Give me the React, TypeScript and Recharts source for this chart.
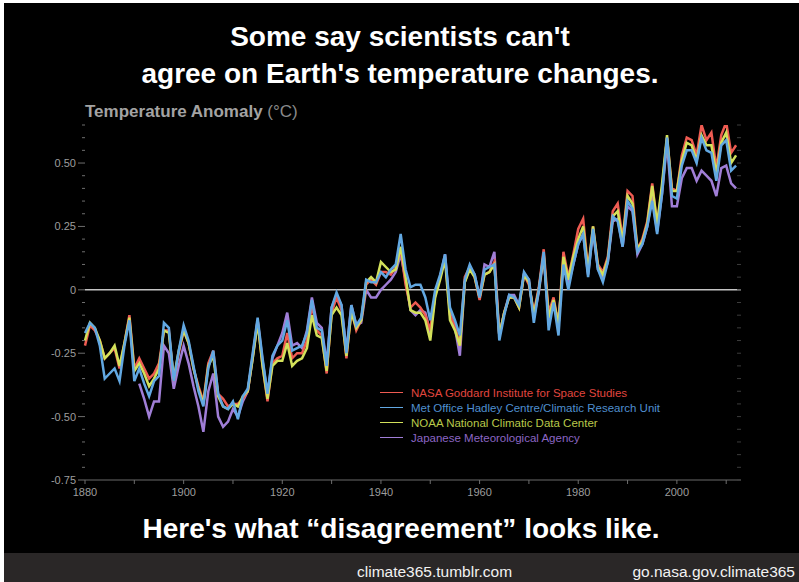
import React from 'react';
import { LineChart, Line, XAxis, YAxis, ReferenceLine, Legend } from 'recharts';

const FONT = '"Liberation Sans", Arial, Helvetica, sans-serif';

const FIRST_YEAR = 1880;
const JMA_FIRST_YEAR = 1891;

// annual anomalies, 1880-2012
const nasa = [
  -0.22, -0.14, -0.16, -0.2, -0.27, -0.25, -0.23, -0.31, -0.21, -0.1,
  -0.31, -0.27, -0.31, -0.35, -0.33, -0.29, -0.16, -0.16, -0.36, -0.25,
  -0.16, -0.21, -0.31, -0.38, -0.44, -0.29, -0.24, -0.41, -0.43, -0.46,
  -0.45, -0.45, -0.43, -0.4, -0.26, -0.12, -0.3, -0.44, -0.29, -0.27,
  -0.26, -0.17, -0.27, -0.25, -0.25, -0.2, -0.06, -0.16, -0.18, -0.33,
  -0.09, -0.03, -0.08, -0.27, -0.08, -0.16, -0.12, 0.02, 0.04, 0.02,
  0.07, 0.07, 0.06, 0.09, 0.16, 0.02, -0.07, -0.05, -0.07, -0.1,
  -0.16, -0.02, 0.05, 0.13, -0.1, -0.14, -0.22, 0.05, 0.09, 0.05,
  -0.04, 0.06, 0.07, 0.11, -0.18, -0.09, -0.03, -0.03, -0.07, 0.06,
  0.02, -0.09, 0.01, 0.16, -0.09, -0.03, -0.14, 0.15, 0.05, 0.14,
  0.24, 0.28, 0.08, 0.25, 0.1, 0.07, 0.13, 0.31, 0.34, 0.2,
  0.39, 0.37, 0.16, 0.2, 0.27, 0.42, 0.26, 0.4, 0.6, 0.4,
  0.39, 0.53, 0.6, 0.59, 0.53, 0.65, 0.59, 0.62, 0.48, 0.61,
  0.66, 0.54, 0.57,
];

const hadcrut = [
  -0.17, -0.13, -0.15, -0.22, -0.35, -0.33, -0.31, -0.36, -0.22, -0.12,
  -0.36, -0.31, -0.37, -0.42, -0.36, -0.34, -0.13, -0.15, -0.36, -0.24,
  -0.14, -0.2, -0.3, -0.4, -0.46, -0.31, -0.24, -0.41, -0.46, -0.47,
  -0.44, -0.51, -0.42, -0.39, -0.25, -0.11, -0.27, -0.41, -0.26, -0.22,
  -0.2, -0.12, -0.24, -0.23, -0.22, -0.17, -0.04, -0.15, -0.16, -0.3,
  -0.07, -0.01, -0.06, -0.25, -0.06, -0.14, -0.11, 0.04, 0.03, 0.03,
  0.07, 0.05, 0.08, 0.1, 0.22, 0.08, 0.01, 0.02, 0.02, -0.03,
  -0.12, 0.0, 0.06, 0.14, -0.07, -0.12, -0.18, 0.04, 0.1, 0.06,
  -0.03, 0.08, 0.09, 0.1, -0.2, -0.1, -0.02, -0.03, -0.06, 0.07,
  0.04, -0.13, 0.0, 0.15, -0.16, -0.05, -0.18, 0.1, 0.0, 0.1,
  0.18, 0.22, 0.05, 0.24, 0.08, 0.03, 0.11, 0.29, 0.27, 0.17,
  0.35, 0.32, 0.15, 0.18, 0.25, 0.35, 0.22, 0.38, 0.6, 0.37,
  0.36, 0.49, 0.55, 0.55, 0.5, 0.6, 0.55, 0.54, 0.43, 0.57,
  0.59, 0.47, 0.49,
];

const noaa = [
  -0.2, -0.13, -0.15, -0.2, -0.27, -0.25, -0.22, -0.3, -0.21, -0.11,
  -0.32, -0.29, -0.33, -0.38, -0.35, -0.31, -0.16, -0.17, -0.35, -0.24,
  -0.16, -0.21, -0.31, -0.39, -0.45, -0.3, -0.26, -0.42, -0.46, -0.47,
  -0.45, -0.46, -0.42, -0.4, -0.27, -0.13, -0.3, -0.43, -0.3, -0.28,
  -0.28, -0.21, -0.3, -0.28, -0.27, -0.23, -0.1, -0.18, -0.19, -0.32,
  -0.1, -0.07, -0.1, -0.26, -0.09, -0.15, -0.12, 0.03, 0.05, 0.03,
  0.11, 0.09, 0.07, 0.08, 0.17, 0.05, -0.08, -0.09, -0.09, -0.12,
  -0.2, -0.03, 0.04, 0.12, -0.12, -0.16, -0.22, 0.03, 0.08, 0.05,
  -0.03, 0.06, 0.07, 0.1, -0.18, -0.09, -0.03, -0.03, -0.07, 0.06,
  0.03, -0.1, 0.0, 0.14, -0.11, -0.04, -0.14, 0.13, 0.04, 0.13,
  0.2, 0.25, 0.07, 0.25, 0.09, 0.06, 0.12, 0.29, 0.31, 0.19,
  0.37, 0.34, 0.16, 0.19, 0.26, 0.41, 0.26, 0.42, 0.61, 0.39,
  0.39, 0.51, 0.58, 0.57, 0.51, 0.61, 0.57, 0.57, 0.46, 0.58,
  0.62, 0.5, 0.53,
];

// JMA series starts in 1891
const jma = [
  -0.37, -0.43, -0.5, -0.44, -0.44, -0.22, -0.25, -0.39, -0.3,
  -0.22, -0.29, -0.38, -0.46, -0.56, -0.4, -0.33, -0.5, -0.54, -0.52,
  -0.47, -0.5, -0.44, -0.4, -0.27, -0.12, -0.28, -0.41, -0.27, -0.22,
  -0.17, -0.09, -0.22, -0.21, -0.23, -0.16, -0.03, -0.13, -0.15, -0.29,
  -0.07, -0.02, -0.06, -0.24, -0.06, -0.14, -0.13, 0.0, -0.03, -0.03,
  0.0, 0.02, 0.04, 0.07, 0.14, 0.04, -0.08, -0.1, -0.08, -0.09,
  -0.17, -0.02, 0.05, 0.14, -0.09, -0.15, -0.26, 0.03, 0.09, 0.06,
  -0.03, 0.1, 0.09, 0.15, -0.18, -0.09, -0.02, -0.02, -0.06, 0.06,
  0.04, -0.11, -0.01, 0.13, -0.12, -0.06, -0.12, 0.11, 0.02, 0.1,
  0.18, 0.22, 0.06, 0.23, 0.08, 0.05, 0.11, 0.27, 0.28, 0.17,
  0.33, 0.31, 0.14, 0.18, 0.25, 0.37, 0.23, 0.38, 0.58, 0.33,
  0.33, 0.44, 0.48, 0.48, 0.43, 0.47, 0.45, 0.43, 0.37, 0.48,
  0.49, 0.42, 0.4,
];

const xTicks = [1880, 1890, 1900, 1910, 1920, 1930, 1940, 1950, 1960, 1970, 1980, 1990, 2000, 2010];
const xLabels = [1880, 1900, 1920, 1940, 1960, 1980, 2000];

const yTicks = [
  -0.75, -0.7, -0.65, -0.6, -0.55, -0.5, -0.45, -0.4, -0.35, -0.3, -0.25, -0.2, -0.15, -0.1, -0.05,
  0, 0.05, 0.1, 0.15, 0.2, 0.25, 0.3, 0.35, 0.4, 0.45, 0.5, 0.55, 0.6, 0.65,
];
const yLabels = [-0.75, -0.5, -0.25, 0, 0.25, 0.5];

const series = [
  { key: 'nasa', name: 'NASA Goddard Institute for Space Studies', color: '#ef5b52', text: '#e0463f' },
  { key: 'hadcrut', name: 'Met Office Hadley Centre/Climatic Research Unit', color: '#62a8e2', text: '#4f8fcf' },
  { key: 'noaa', name: 'NOAA National Climatic Data Center', color: '#d3e15a', text: '#b9c84a' },
  { key: 'jma', name: 'Japanese Meteorological Agency', color: '#a07ed7', text: '#8c66c4' },
];

const data = nasa.map((v, i) => {
  const year = FIRST_YEAR + i;
  const j = year - JMA_FIRST_YEAR;
  return { year, nasa: v, hadcrut: hadcrut[i], noaa: noaa[i], jma: j >= 0 ? jma[j] : null };
});

const isLabel = (list: number[], v: number) => list.some((l) => Math.abs(l - v) < 1e-6);

const LeftTick = (props: any) => {
  const { x, y, payload } = props;
  const v = payload.value;
  const major = isLabel(yLabels, v);
  return (
    <g>
      <line x1={x - (major ? 7 : 3)} x2={x} y1={y} y2={y} stroke="#6e6e6e" strokeWidth={1} />
      {major && (
        <text x={x - 9} y={y + 4} textAnchor="end" fill="#9d9d9d" fontSize={11} fontFamily={FONT}>
          {v === 0 ? '0' : v.toFixed(2)}
        </text>
      )}
    </g>
  );
};

const RightTick = (props: any) => {
  const { x, y } = props;
  return <line x1={x - 4} x2={x} y1={y} y2={y} stroke="#3c3c3c" strokeWidth={1} />;
};

const BottomTick = (props: any) => {
  const { x, y, payload } = props;
  const major = isLabel(xLabels, payload.value);
  return (
    <g>
      <line x1={x} x2={x} y1={y} y2={y + 4} stroke="#6e6e6e" strokeWidth={1} />
      {major && (
        <text x={x} y={y + 16} textAnchor="middle" fill="#9d9d9d" fontSize={11} fontFamily={FONT}>
          {payload.value}
        </text>
      )}
    </g>
  );
};

const LegendBox = () => (
  <div style={{ fontFamily: FONT, fontSize: 11.5 }}>
    {series.map((s) => (
      <div key={s.key} style={{ display: 'flex', alignItems: 'center', height: 15 }}>
        <span style={{ display: 'inline-block', width: 23, height: 1.5, background: s.color, marginRight: 8 }} />
        <span style={{ color: s.text, whiteSpace: 'nowrap' }}>{s.name}</span>
      </div>
    ))}
  </div>
);

const drawOrder = ['jma', 'nasa', 'noaa', 'hadcrut'];

export default function App() {
  return (
    <div style={{ position: 'absolute', left: 0, top: 0, width: 799, height: 582, background: '#fff', overflow: 'hidden' }}>
      <div style={{ position: 'absolute', left: 4, top: 3, width: 795, height: 550, background: '#000' }} />
      <div style={{ position: 'absolute', left: 4, top: 553, width: 795, height: 29, background: '#2a2727' }} />

      <div style={{ position: 'absolute', left: 0, top: 0 }}>
        <LineChart width={799} height={582} data={data} margin={{ top: 125, right: 50, bottom: 72, left: 0 }}>
          <XAxis
            dataKey="year"
            type="number"
            domain={[1880, 2013]}
            ticks={xTicks}
            interval={0}
            tickSize={0}
            tickMargin={0}
            tickLine={false}
            axisLine={{ stroke: '#6a6a6a' }}
            tick={<BottomTick />}
            height={30}
          />
          <YAxis
            yAxisId="left"
            type="number"
            domain={[-0.75, 0.65]}
            ticks={yTicks}
            interval={0}
            tickSize={0}
            tickMargin={0}
            tickLine={false}
            axisLine={false}
            tick={<LeftTick />}
            width={85}
            allowDataOverflow
          />
          <YAxis
            yAxisId="right"
            orientation="right"
            type="number"
            domain={[-0.75, 0.65]}
            ticks={yTicks}
            interval={0}
            tickSize={0}
            tickMargin={0}
            tickLine={false}
            axisLine={false}
            tick={<RightTick />}
            width={8}
            allowDataOverflow
          />
          <ReferenceLine yAxisId="left" y={0} stroke="#c4c4c4" strokeWidth={1.5} />
          {drawOrder.map((k) => {
            const s = series.find((d) => d.key === k)!;
            return (
              <Line
                key={k}
                yAxisId="left"
                type="linear"
                dataKey={k}
                name={s.name}
                stroke={s.color}
                strokeWidth={2.5}
                dot={false}
                activeDot={false}
                isAnimationActive={false}
              />
            );
          })}
          <Legend
            layout="horizontal"
            verticalAlign="middle"
            align="center"
            content={<LegendBox />}
            wrapperStyle={{ left: 380, top: 385, width: 320 }}
          />
        </LineChart>
      </div>

      <svg width={799} height={582} style={{ position: 'absolute', left: 0, top: 0, pointerEvents: 'none' }}>
        <g fontFamily={FONT} fill="#fff" fontWeight="bold" fontSize={28} textAnchor="middle">
          <text x={400} y={46}>Some say scientists can't</text>
          <text x={400} y={83}>agree on Earth's temperature changes.</text>
          <text x={401} y={538}>Here's what “disagreement” looks like.</text>
        </g>
        <text x={85} y={117} fontFamily={FONT} fontSize={17}>
          <tspan fontWeight="bold" fill="#a3a3a3">Temperature Anomaly</tspan>
          <tspan fill="#8a8a8a"> (°C)</tspan>
        </text>
        <g fontFamily={FONT} fill="#f2f2f2" fontSize={15.5}>
          <text x={357} y={577}>climate365.tumblr.com</text>
          <text x={795} y={577} textAnchor="end">go.nasa.gov.climate365</text>
        </g>
      </svg>
    </div>
  );
}
